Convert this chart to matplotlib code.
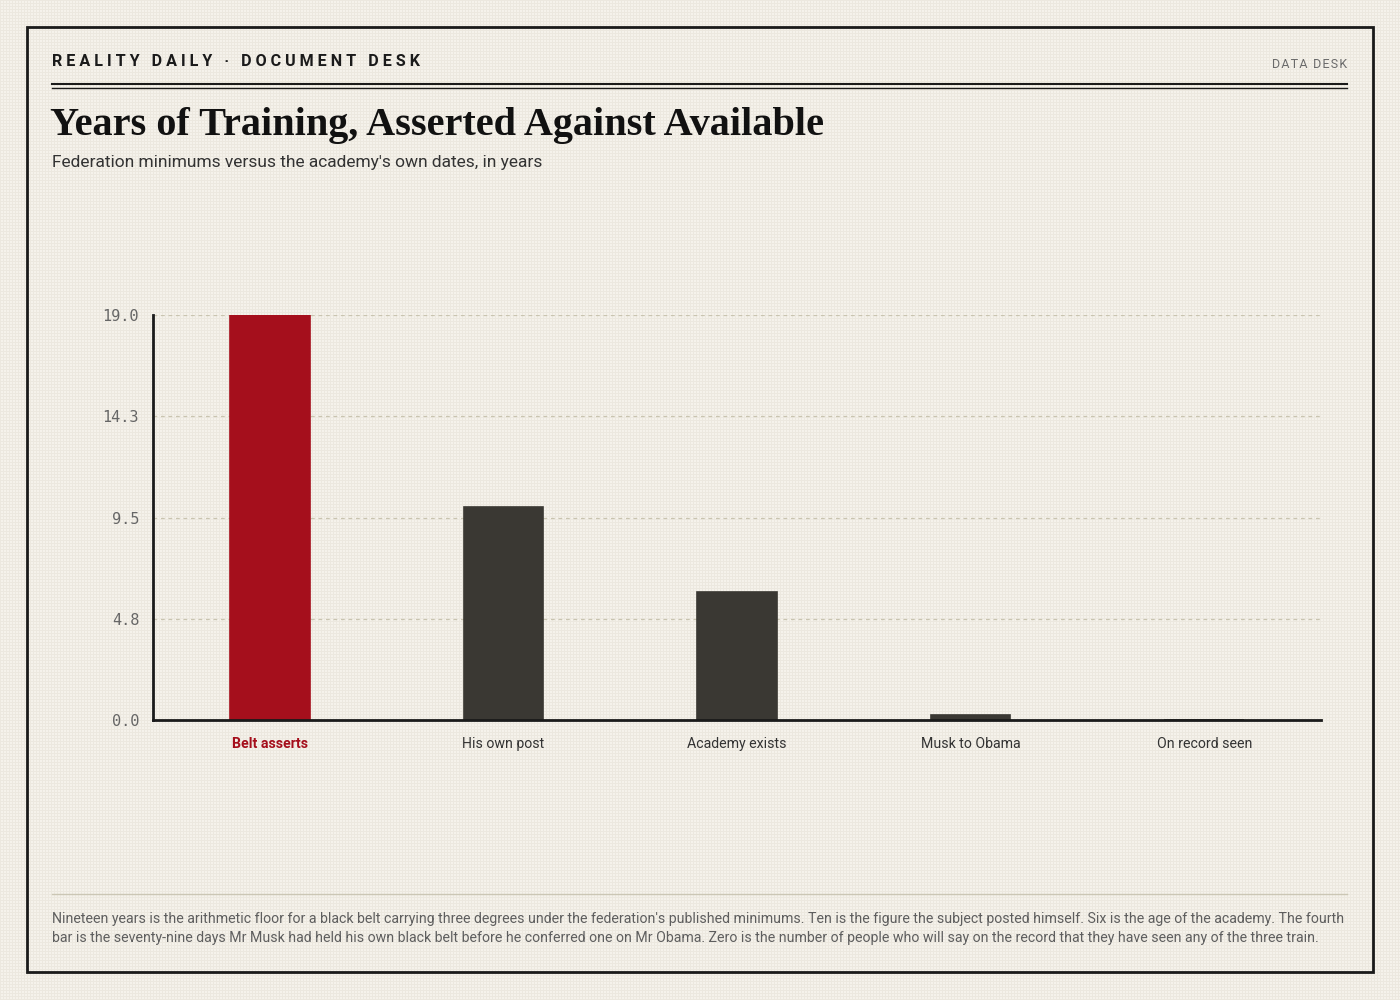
import matplotlib
matplotlib.use("Agg")
import matplotlib.pyplot as plt
import numpy as np
from matplotlib.patches import Rectangle
from matplotlib.lines import Line2D

categories = ["Belt asserts", "His own post", "Academy exists", "Musk to Obama", "On record seen"]
values = [19.0, 10.0, 6.0, 0.22, 0.0]
highlight = [True, False, False, False, False]
yticks = [0.0, 4.75, 9.5, 14.25, 19.0]
ytick_labels = ["0.0", "4.8", "9.5", "14.3", "19.0"]

title = "Years of Training, Asserted Against Available"
subtitle = "Federation minimums versus the academy's own dates, in years"
kicker = "REALITY DAILY · DOCUMENT DESK"
desk = "DATA DESK"
footer = ("Nineteen years is the arithmetic floor for a black belt carrying three degrees under the federation's published minimums. Ten is the figure the subject posted himself. Six is the age of the academy. The fourth\n"
          "bar is the seventy-nine days Mr Musk had held his own black belt before he conferred one on Mr Obama. Zero is the number of people who will say on the record that they have seen any of the three train.")

BG = "#f3f0e9"
RED = "#a50f1c"
DARK = "#3a3833"
INK = "#1a1a1a"

W, H = 1400, 1000
fig = plt.figure(figsize=(14, 10), dpi=100, facecolor=BG)

# subtle paper texture
base = np.array([0xf5, 0xf2, 0xeb], dtype=float) / 255
line = np.array([0xec, 0xe8, 0xdf], dtype=float) / 255
tex = np.tile(base, (H, W, 1))
tex[::3, :, :] = line
tex[:, ::3, :] = line
fig.figimage(tex, xo=0, yo=0, zorder=-5, origin="upper")

def fx(px):
    return px / W

def fy(py):
    return 1 - py / H

def spaced(s, gap=" "):
    return gap.join(list(s))

# frame
fig.add_artist(Rectangle((fx(27), fy(972)), fx(1373) - fx(27), fy(27) - fy(972),
                         transform=fig.transFigure, fill=False, edgecolor=INK, linewidth=2))

# header
fig.text(fx(52), fy(62), spaced(kicker), fontsize=11.6, fontweight="bold", family=["Roboto", "DejaVu Sans"],
         color=INK, va="center", ha="left")
fig.text(fx(1347), fy(64), spaced(desk, "\u200a"), fontsize=9,
         family=["Roboto", "DejaVu Sans"], color="#6a6a6a", va="center", ha="right")
fig.add_artist(Line2D([fx(52), fx(1347)], [fy(84), fy(84)], transform=fig.transFigure, color=INK, linewidth=1.5))
fig.add_artist(Line2D([fx(52), fx(1347)], [fy(87.5), fy(87.5)], transform=fig.transFigure, color=INK, linewidth=1.0))

fig.text(fx(50), fy(125), title, fontsize=29, fontweight="bold", family=["Liberation Serif", "DejaVu Serif"],
         color="#111111", va="center", ha="left")
fig.text(fx(52), fy(162), subtitle, fontsize=12.5, family=["Roboto", "DejaVu Sans"], color="#333333",
         va="center", ha="left")

# axes
ax = fig.add_axes([fx(153), fy(720), fx(1321) - fx(153), fy(315) - fy(720)], zorder=2)
ax.set_facecolor("none")
x = list(range(len(categories)))
colors = [RED if h else DARK for h in highlight]
ax.bar(x, values, width=0.34, color=colors, edgecolor=colors, linewidth=1.2, zorder=3)
ax.set_xlim(-0.5, len(categories) - 0.5)
ax.set_ylim(0, 19.0)
ax.set_yticks(yticks)
ax.set_yticklabels(ytick_labels, family=["DejaVu Sans Mono"], fontsize=11, color="#666666")
ax.set_xticks(x)
ax.set_xticklabels(categories, family=["Roboto", "DejaVu Sans"], fontsize=10.2, color="#333333")
for lbl, h in zip(ax.get_xticklabels(), highlight):
    if h:
        lbl.set_color(RED)
        lbl.set_fontweight("bold")
ax.tick_params(axis="both", length=0)
ax.tick_params(axis="y", pad=10)
ax.tick_params(axis="x", pad=12)
for s in ["top", "right"]:
    ax.spines[s].set_visible(False)
for s in ["left", "bottom"]:
    ax.spines[s].set_color(INK)
    ax.spines[s].set_linewidth(2)
    ax.spines[s].set_zorder(4)
ax.grid(axis="y", color="#c9c4b0", linestyle=(0, (3, 3)), linewidth=0.9, zorder=0)
ax.set_axisbelow(True)

# footer
fig.add_artist(Line2D([fx(52), fx(1347)], [fy(894), fy(894)], transform=fig.transFigure, color="#cbc6b4", linewidth=1))
fig.text(fx(52), fy(928.5), footer, fontsize=10.15, family=["Roboto", "DejaVu Sans"], color="#5e5e5e",
         va="center", ha="left", linespacing=1.45)

fig.savefig("out.png", dpi=100, facecolor=BG)
